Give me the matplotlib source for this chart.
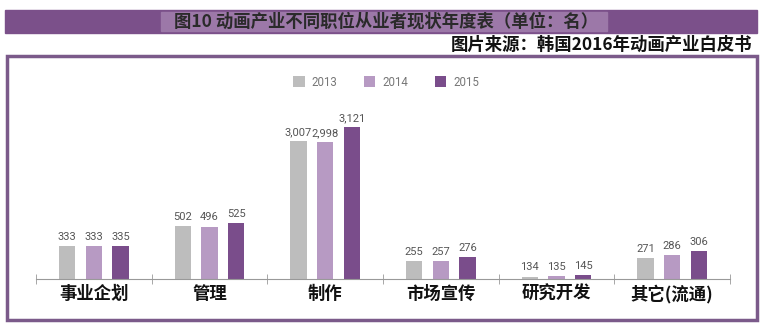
import matplotlib.pyplot as plt
from matplotlib.patches import Rectangle
import numpy as np

plt.rcParams['font.family'] = ['Noto Sans CJK SC', 'DejaVu Sans']

categories = ['事业企划', '管理', '制作', '市场宣传', '研究开发', '其它(流通)']
years = ['2013', '2014', '2015']
v2013 = [333, 502, 3007, 255, 134, 271]
v2014 = [333, 496, 2998, 257, 135, 286]
v2015 = [335, 525, 3121, 276, 145, 306]
colors = ['#bdbdbd', '#b79ac3', '#7a4d8b']

# the original axis is drawn by hand, not linear; mimic it with a piecewise scale
kx = [0, 130, 250, 335, 525, 3000, 3121, 6000]
ky = [0, 2, 17, 33, 56, 137, 152, 497]
fwd = lambda v: np.interp(v, kx, ky)
inv = lambda h: np.interp(h, ky, kx)

W, H = 763, 326
fig = plt.figure(figsize=(W / 100, H / 100), dpi=100)
num_font = ['Roboto', 'DejaVu Sans']

# header band
fig.patches.append(Rectangle((5 / W, 1 - 33 / H), 752 / W, 23 / H, transform=fig.transFigure,
                             color='#7b508a', zorder=0))
fig.patches.append(Rectangle((161 / W, 1 - 31 / H), 446 / W, 19 / H, transform=fig.transFigure,
                             color='#9c78a8', zorder=1))
fig.text(386 / W, 1 - 21.5 / H, '图10 动画产业不同职位从业者现状年度表（单位：名）', ha='center', va='center',
         fontsize=12.5, fontweight='bold', color='#2a2a2a', zorder=2)
fig.text(752 / W, 1 - 45 / H, '图片来源：韩国2016年动画产业白皮书', ha='right', va='center',
         fontsize=12.5, fontweight='bold', color='#111111')
# chart frame
fig.patches.append(Rectangle((7 / W, 1 - 320 / H), 750 / W, 264 / H, transform=fig.transFigure,
                             fill=False, edgecolor='#7b5a8a', lw=2.5))

bottom_px = H - 279
top_px = H - 100
ax = fig.add_axes([36 / W, bottom_px / H, 694 / W, (top_px - bottom_px) / H])
ax.set_yscale('function', functions=(fwd, inv))
ax.set_ylim(0, inv(top_px - bottom_px))
ax.set_xlim(-0.5, len(categories) - 0.5)

x = np.arange(len(categories))
off = 0.23
for i, (vals, c, y) in enumerate(zip([v2013, v2014, v2015], colors, years)):
    xs = x + (i - 1) * off
    ax.bar(xs, vals, width=0.14, color=c, label=y, zorder=2)
    for xi, v in zip(xs, vals):
        ax.annotate(f'{v:,}', (xi, v), xytext=(0, 3), textcoords='offset points',
                    ha='center', va='bottom', fontsize=8, color='#555555',
                    family=num_font)

for s in ['top', 'left', 'right']:
    ax.spines[s].set_visible(False)
ax.spines['bottom'].set_color('#999999')
ax.set_yticks([])
ax.set_xticks(x)
ax.set_xticklabels(categories, fontsize=12.5, fontweight='bold', color='#111111')
ax.tick_params(axis='x', which='major', length=0, pad=4)
ax.set_xticks(np.arange(-0.5, len(categories)), minor=True)
ax.tick_params(axis='x', which='minor', length=7, direction='inout', color='#999999')

leg = fig.legend(loc='center', bbox_to_anchor=(386 / W, 1 - 82 / H), ncol=3, frameon=False,
                 handlelength=1.0, handleheight=1.0, handletextpad=0.6, columnspacing=2.3,
                 prop={'family': num_font, 'size': 8.3})
for t in leg.get_texts():
    t.set_color('#777777')

fig.savefig('out.png', dpi=100)
